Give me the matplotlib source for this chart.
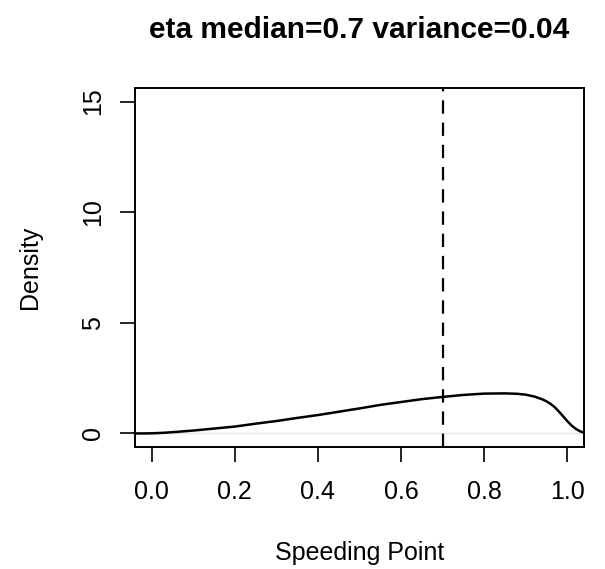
import matplotlib
matplotlib.use("Agg")
import matplotlib.pyplot as plt

# Density curve
speed_x = [-0.04, -0.02, 0.0, 0.03, 0.06, 0.10, 0.15, 0.20, 0.25, 0.30, 0.35,
           0.40, 0.45, 0.50, 0.55, 0.60, 0.65, 0.70, 0.75, 0.80, 0.85, 0.88,
           0.90, 0.92, 0.94, 0.95, 0.96, 0.97, 0.98, 0.99, 1.00, 1.01, 1.02,
           1.03, 1.04]
density_y = [0.0, 0.0, 0.005, 0.03, 0.07, 0.13, 0.22, 0.31, 0.44, 0.56, 0.70,
             0.83, 0.98, 1.13, 1.29, 1.42, 1.55, 1.65, 1.74, 1.80, 1.81, 1.79,
             1.75, 1.67, 1.54, 1.45, 1.33, 1.18, 0.98, 0.77, 0.55, 0.36, 0.21,
             0.10, 0.04]
median_value = 0.7
x_ticks = [0.0, 0.2, 0.4, 0.6, 0.8, 1.0]
x_tick_labels = ["0.0", "0.2", "0.4", "0.6", "0.8", "1.0"]
y_ticks = [0, 5, 10, 15]
y_tick_labels = ["0", "5", "10", "15"]
title_text = "eta median=0.7 variance=0.04"
x_label = "Speeding Point"
y_label = "Density"

plt.rcParams['font.family'] = ['Liberation Sans', 'DejaVu Sans']

W, H = 605, 569
fig = plt.figure(figsize=(W / 100, H / 100), dpi=100)
L, R, T, B = 135, 584, 88.3, 446.7
ax = fig.add_axes([L / W, 1 - B / H, (R - L) / W, (B - T) / H])

ax.axhline(0, color='#e6e6e6', lw=1.0, zorder=1)
ax.plot(speed_x, density_y, color='black', lw=1.8, zorder=3,
        solid_joinstyle='round')
ax.axvline(median_value, color='black', lw=1.6, linestyle=(0, (6, 4)), zorder=2)

ax.set_xlim(-0.04, 1.04)
ax.set_ylim(-0.6, 15.6)
ax.set_xticks(x_ticks)
ax.set_xticklabels(x_tick_labels)
ax.set_yticks(y_ticks)
ax.set_yticklabels(y_tick_labels, rotation=90, va='center')

for s in ax.spines.values():
    s.set_linewidth(1.4)
ax.tick_params(axis='both', length=10.8, width=1.2, labelsize=18, color='black')
ax.tick_params(axis='x', pad=13)
ax.tick_params(axis='y', pad=11)

ax.set_xlabel(x_label, fontsize=18, va='center')
ax.xaxis.set_label_coords(0.5, (B - 553) / (B - T))
ax.set_ylabel(y_label, fontsize=18, va='center')
ax.yaxis.set_label_coords((30 - L) / (R - L), 0.5)

fig.text((L + R) / 2 / W, 1 - 30 / H, title_text, ha='center', va='center',
         fontsize=21.5, fontweight='bold')

fig.savefig("out.png", dpi=100)
